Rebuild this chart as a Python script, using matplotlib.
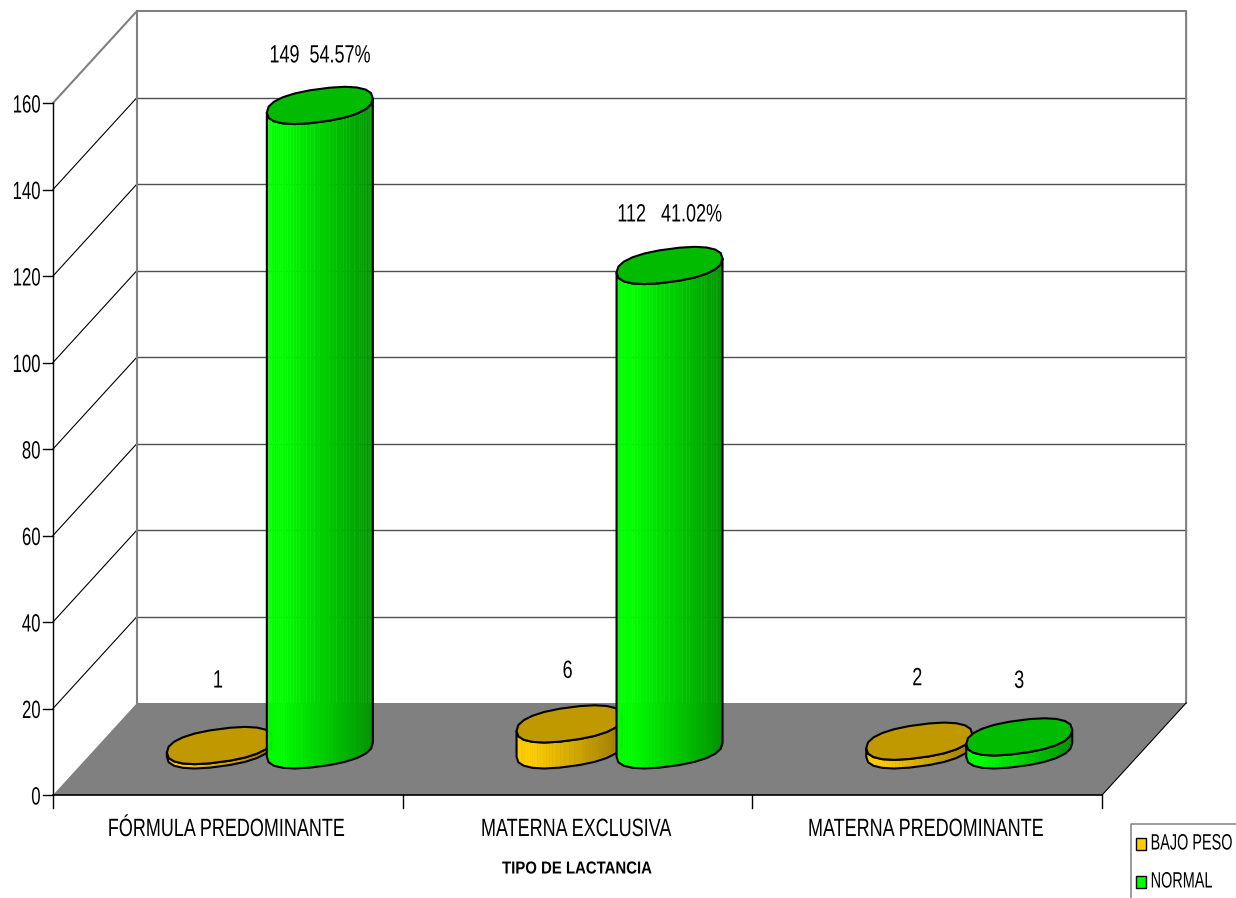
import numpy as np
import matplotlib
matplotlib.use("Agg")
import matplotlib.pyplot as plt
from matplotlib.patches import Polygon, Rectangle
from matplotlib.patheffects import AbstractPathEffect
from matplotlib.transforms import Affine2D

categories = ["FÓRMULA PREDOMINANTE", "MATERNA EXCLUSIVA", "MATERNA PREDOMINANTE"]
bajo_peso = [1, 6, 2]
normal = [149, 112, 3]
bajo_labels = ["1", "6", "2"]
normal_labels = ["149  54.57%", "112   41.02%", "3"]
y_ticks = [0, 20, 40, 60, 80, 100, 120, 140, 160]
series_names = ["BAJO PESO", "NORMAL"]
axis_title = "TIPO DE LACTANCIA"

plt.rcParams['font.family'] = ['Liberation Sans', 'DejaVu Sans']

W, H = 1236, 898
X0, Y0 = 53, 795        # front corner of the chart, in pixels
CAT_W = 349.7           # pixels per category
UNIT = 4.325            # pixels per value unit
DX = 84 / CAT_W         # depth of the 3d box in data units
DY = 92 / UNIT


# the reference font is a narrow arial, no narrow family here so squeeze the glyphs
class Squeeze(AbstractPathEffect):
    def __init__(self, s, anchor='center'):
        super().__init__()
        self.s = s
        self.anchor = anchor

    def draw_path(self, renderer, gc, tpath, affine, rgbFace=None):
        e = tpath.get_extents()
        c = {'left': e.x0, 'right': e.x1, 'center': (e.x0 + e.x1) / 2}[self.anchor]
        tr = Affine2D().translate(-c, 0).scale(self.s, 1).translate(c, 0) + affine
        renderer.draw_path(gc, tpath, tr, rgbFace)


fig = plt.figure(figsize=(W / 100, H / 100), dpi=100)
ax = fig.add_axes([0, 0, 1, 1])
ax.set_xlim(-X0 / CAT_W, (W - X0) / CAT_W)
ax.set_ylim((Y0 - H) / UNIT, Y0 / UNIT)
ax.axis('off')


def px(x):
    return (x - X0) / CAT_W


def py(y):
    return (Y0 - y) / UNIT


# walls and floor
top = y_ticks[-1]
ax.add_patch(Polygon([(0, 0), (DX, DY), (3 + DX, DY), (3, 0)], fc='#808080', ec='none', zorder=1))
for v in y_ticks[1:-1]:
    ax.plot([0, DX], [v, v + DY], color='black', lw=0.8, zorder=0.5)
    ax.plot([DX, 3 + DX], [v + DY, v + DY], color='#505050', lw=1.0, zorder=0.5)
ax.plot([0, DX, 3 + DX, 3 + DX], [top, top + DY, top + DY, DY], color='#808080', lw=1.5, zorder=0.6)
ax.plot([DX, DX], [DY, top + DY], color='#808080', lw=1.5, zorder=0.6)
ax.plot([3, 3 + DX], [0, DY], color='black', lw=0.8, zorder=1.1)
ax.plot([0, 0], [0, top], color='black', lw=1.0, zorder=2)
ax.plot([0, 3], [0, 0], color='black', lw=1.2, zorder=2)

# axes ticks and labels
for v in y_ticks:
    ax.plot([px(43), 0], [v, v], color='black', lw=1.0, zorder=2)
    ax.text(px(41), v - 2.5 / UNIT, str(v), ha='right', va='center', fontsize=18, color='black',
            path_effects=[Squeeze(0.67, 'right')])
for i in range(len(categories) + 1):
    ax.plot([i, i], [0, py(808)], color='black', lw=1.0, zorder=2)
for i, c in enumerate(categories):
    ax.text(i + 0.5 - 2 / CAT_W, py(829), c, ha='center', va='center', fontsize=18, color='black',
            path_effects=[Squeeze(0.72)])
ax.text(px(577), py(869), axis_title, ha='center', va='center', fontsize=12.5, fontweight='bold',
        path_effects=[Squeeze(0.86)])

# cylinders
A = 53 / CAT_W
B = 16.6 / UNIT
S = 7 / UNIT
N = 22


def ellipse(cx, cy, t):
    # slightly square ellipse, the original caps have full shoulders
    c = np.sign(np.cos(t)) * np.abs(np.cos(t)) ** 0.85
    s = np.sign(np.sin(t)) * np.abs(np.sin(t)) ** 0.85
    return cx + A * c, cy - B * s + S * c


def cylinder(cx, v, bright, dark, topc, z):
    base = DY / 2 - 0.2
    # fine strips for the shading, coarse outline like the original
    t = np.linspace(np.pi, 0, 49)
    xb, yb = ellipse(cx, base, t)
    xt, yt = ellipse(cx, base + v, t)
    for k in range(len(t) - 1):
        # lightest a little way in from the left, darker to the right
        f = max(0.0, ((xb[k] + xb[k + 1]) / 2 - (cx - A)) / (2 * A) - 0.15) / 0.85
        col = np.array(bright) * (1 - f) + np.array(dark) * f
        ax.add_patch(Polygon([(xb[k], yb[k]), (xb[k + 1], yb[k + 1]), (xt[k + 1], yt[k + 1]), (xt[k], yt[k])],
                             fc=col, ec=col, lw=0.3, zorder=z))
    t1 = np.linspace(np.pi, 0, N // 2 + 1)
    xb, yb = ellipse(cx, base, t1)
    xt, yt = ellipse(cx, base + v, t1)
    outline = list(zip(xb, yb)) + list(zip(xt[::-1], yt[::-1]))
    ax.add_patch(Polygon(outline, fc='none', ec='black', lw=1.5, zorder=z + 0.1))
    t2 = np.linspace(0, 2 * np.pi, N + 1)
    xe, ye = ellipse(cx, base + v, t2)
    ax.add_patch(Polygon(list(zip(xe, ye)), fc=topc, ec='black', lw=1.5, zorder=z + 0.2))


GOLD = ((1, 0.8, 0), (0.62, 0.49, 0), '#c09800')
GREEN = ((0, 1, 0), (0, 0.58, 0), '#00bb00')
OFF = 50 / CAT_W
for i in range(len(categories)):
    cx = i + 0.5 + DX / 2
    cylinder(cx - OFF, bajo_peso[i], GOLD[0], GOLD[1], GOLD[2], 3 + i)
    cylinder(cx + OFF, normal[i], GREEN[0], GREEN[1], GREEN[2], 3.5 + i)

# value labels, raised above the top of each cylinder
bajo_lift = [65, 53, 63]
normal_lift = [50, 51, 56]
for i in range(len(categories)):
    cx = i + 0.5 + DX / 2
    ax.text(cx - OFF - 2 / CAT_W, DY / 2 - 0.2 + bajo_peso[i] + bajo_lift[i] / UNIT, bajo_labels[i],
            ha='center', va='center', fontsize=18, zorder=10, color='black', path_effects=[Squeeze(0.72)])
    ax.text(cx + OFF, DY / 2 - 0.2 + normal[i] + normal_lift[i] / UNIT, normal_labels[i],
            ha='center', va='center', fontsize=18, zorder=10, color='black', path_effects=[Squeeze(0.72)])

# legend, right aligned so the unsqueezed box of the text stays in the figure
legend_right = [1233, 1213]
ax.plot([px(1131), px(1131), px(1236)], [py(898), py(824), py(824)], color='#808080', lw=1.1, zorder=2)
for name, col, yc, xr in zip(series_names, ['#ffcc00', '#00ff00'], [844, 882], legend_right):
    ax.add_patch(Rectangle((px(1136), py(yc + 6)), 10 / CAT_W, 12 / UNIT, fc=col, ec='black', lw=1, zorder=3))
    ax.text(px(xr), py(yc), name, ha='right', va='center', fontsize=16, color='black',
            path_effects=[Squeeze(0.65, 'right')])

plt.savefig('out.png', dpi=100)
